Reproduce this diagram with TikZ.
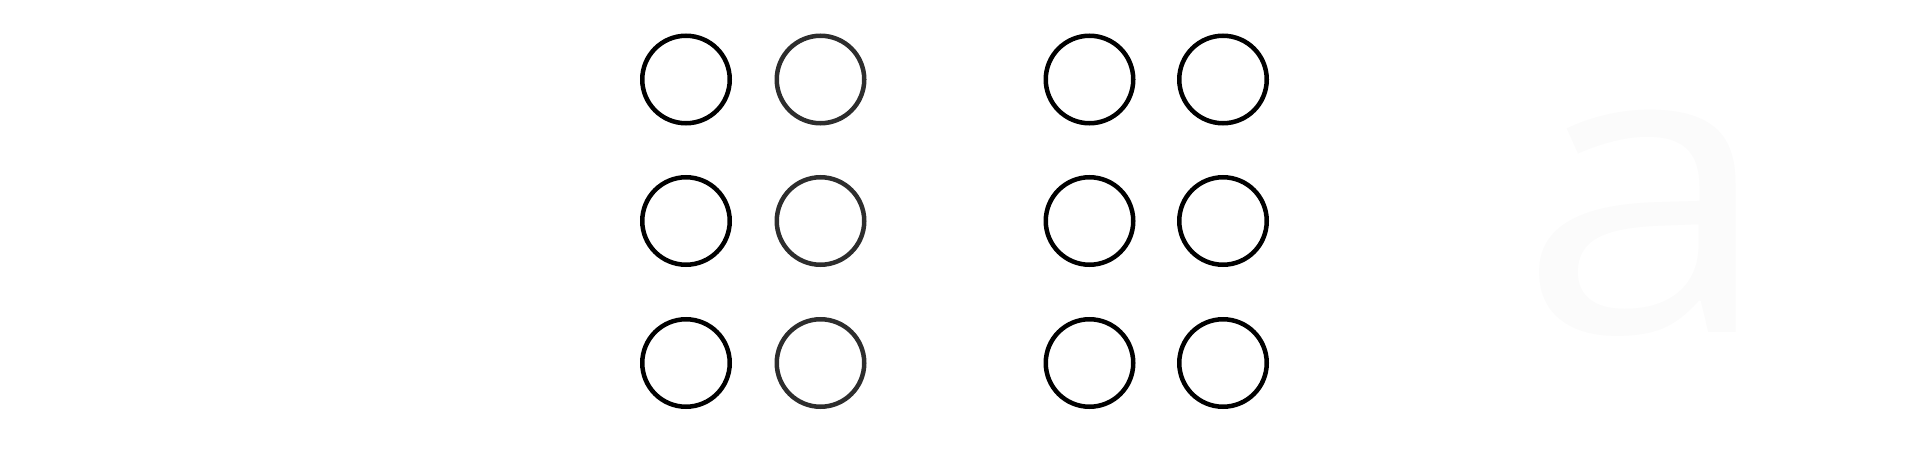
\documentclass[tikz,border=0pt]{standalone}
\usepackage{fontspec}
\setmainfont{Open Sans}
\definecolor{faint}{RGB}{251,251,251}
\definecolor{dgray}{RGB}{45,45,45}
\begin{document}
\begin{tikzpicture}[x=1pt,y=-1pt,
  dot/.style={circle,draw=black,line width=4.5pt,minimum size=87.5pt,inner sep=0pt},
  dotg/.style={dot,draw=dgray}]
\useasboundingbox (0,0) rectangle (1920,452);
\node[dot]  (l11) at (686,79.5) {};
\node[dotg] (l12) at (820.5,79.5) {};
\node[dot]  (l21) at (686,221) {};
\node[dotg] (l22) at (820.5,221) {};
\node[dot]  (l31) at (686,363) {};
\node[dotg] (l32) at (820.5,363) {};
\node[dot] (r11) at (1089.5,79.5) {};
\node[dot] (r12) at (1223,79.5) {};
\node[dot] (r21) at (1089.5,221) {};
\node[dot] (r22) at (1223,221) {};
\node[dot] (r31) at (1089.5,363) {};
\node[dot] (r32) at (1223,363) {};
\node[anchor=base west,inner sep=0pt,text=faint,font=\fontsize{409}{409}\selectfont] (a) at (1518,332) {\scalebox{1.12}[1]{a}};
\end{tikzpicture}
\end{document}
